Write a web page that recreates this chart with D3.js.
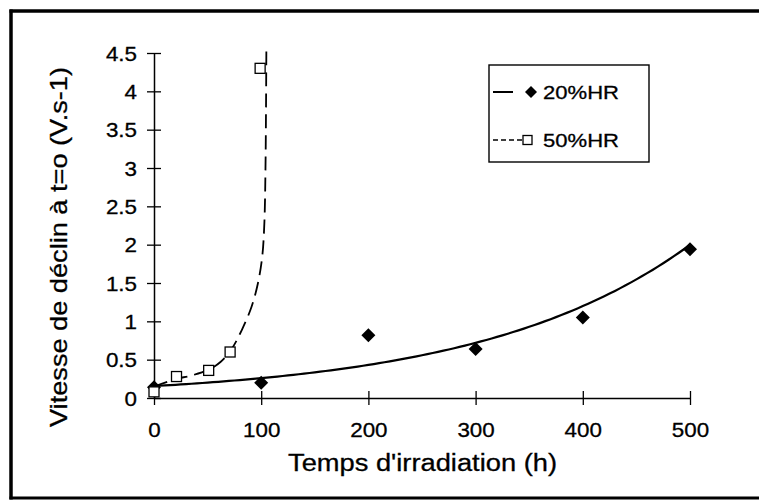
<!DOCTYPE html>
<html>
<head>
<meta charset="utf-8">
<script src="https://cdn.jsdelivr.net/npm/d3@7/dist/d3.min.js"></script>
<style>
  html, body { margin: 0; padding: 0; background: #fff; overflow: hidden; }
  svg { display: block; font-family: "Liberation Sans", Arial, Helvetica, sans-serif; overflow: hidden; }
  text { fill: #000; stroke: #000; stroke-width: 0.3px; }
</style>
</head>
<body>
<svg id="chart" width="759" height="500" viewBox="0 0 759 500"></svg>
<script>
// ---- data ----
const hours20 = [0, 100, 200, 300, 400, 500];
const vit20   = [0.14, 0.2, 0.82, 0.64, 1.05, 1.94];
const hours50 = [0, 21, 51, 71, 99];
const vit50   = [0.08, 0.28, 0.36, 0.6, 4.3];
// dashed trend curve of the 50%HR series, as traced on the picture
const trend50x = [0, 21, 34, 51, 62, 72, 82, 91, 97, 101, 103, 104, 104.5, 104.8];
const trend50y = [0.15, 0.25, 0.29, 0.37, 0.47, 0.63, 0.89, 1.19, 1.5, 1.85, 2.3, 3.0, 3.8, 4.52];
const xTicks = [0, 100, 200, 300, 400, 500];
const yTicks = [0, 0.5, 1, 1.5, 2, 2.5, 3, 3.5, 4, 4.5];
const seriesNames = ["20%HR", "50%HR"];
const xTitle = "Temps d'irradiation (h)";
const yTitle = "Vitesse de déclin à t=o (V.s-1)";

const svg = d3.select("#chart");
const x = d3.scaleLinear().domain([0, 500]).range([154, 690]);
const y = d3.scaleLinear().domain([0, 4.5]).range([398, 53]);

// outer frame: top, left and bottom sides only (right side is off the picture)
svg.append("line").attr("x1", 9.5).attr("x2", 759).attr("y1", 11).attr("y2", 11)
  .attr("stroke", "#000").attr("stroke-width", 3.5);
svg.append("line").attr("x1", 11).attr("x2", 11).attr("y1", 9.5).attr("y2", 499.5)
  .attr("stroke", "#000").attr("stroke-width", 3.5);
svg.append("line").attr("x1", 9.5).attr("x2", 759).attr("y1", 498).attr("y2", 498)
  .attr("stroke", "#000").attr("stroke-width", 3);

// axes
const gx = svg.append("g").attr("transform", `translate(0,${y(0)})`)
  .call(d3.axisBottom(x).tickValues(xTicks).tickSizeInner(7).tickSizeOuter(0).tickFormat(d3.format("d")));
gx.selectAll(".tick line").attr("y1", -7).attr("y2", 7).attr("stroke-width", 1.3);
gx.select(".domain").attr("stroke-width", 1.5);
gx.selectAll(".tick text").attr("y", 39).attr("dy", 0)
  .attr("font-size", 20)
  .attr("transform", "scale(1.12,1)");

const gy = svg.append("g").attr("transform", `translate(${x(0)},0)`)
  .call(d3.axisLeft(y).tickValues(yTicks).tickSizeInner(7).tickSizeOuter(0).tickFormat(d => String(d)));
gy.selectAll(".tick line").attr("x1", -7).attr("x2", 7).attr("stroke-width", 1.3);
gy.select(".domain").attr("stroke-width", 1.5);
gy.selectAll(".tick text").attr("x", -17 / 1.12).attr("dy", "0.36em")
  .attr("font-size", 20)
  .attr("transform", "scale(1.12,1)");
svg.selectAll("g").attr("font-family", null);

// exponential trend line for 20%HR (least squares on ln y)
const n = hours20.length;
const lny = vit20.map(Math.log);
const mx = d3.mean(hours20), my = d3.mean(lny);
let sxy = 0, sxx = 0;
for (let i = 0; i < n; i++) { sxy += (hours20[i] - mx) * (lny[i] - my); sxx += (hours20[i] - mx) ** 2; }
const b = sxy / sxx, a = Math.exp(my - b * mx);
const trend20 = d3.range(0, 501, 5).map(t => [t, a * Math.exp(b * t)]);

svg.append("path").datum(trend20)
  .attr("d", d3.line().x(d => x(d[0])).y(d => y(d[1])))
  .attr("fill", "none").attr("stroke", "#000").attr("stroke-width", 2.2);

const trend50 = trend50x.map((t, i) => [t, trend50y[i]]);
svg.append("path").datum(trend50)
  .attr("d", d3.line().x(d => x(d[0])).y(d => y(d[1])).curve(d3.curveCatmullRom.alpha(0.5)))
  .attr("fill", "none").attr("stroke", "#000").attr("stroke-width", 1.8)
  .attr("stroke-dasharray", "14,7");

// markers
const diamondPath = "M0,-7L7,0L0,7L-7,0Z";
svg.append("g").selectAll("path").data(hours20.map((t, i) => [t, vit20[i]])).join("path")
  .attr("d", diamondPath).attr("transform", d => `translate(${x(d[0])},${y(d[1])})`)
  .attr("fill", "#000");

svg.append("g").selectAll("rect").data(hours50.map((t, i) => [t, vit50[i]])).join("rect")
  .attr("x", d => x(d[0]) - 5).attr("y", d => y(d[1]) - 5)
  .attr("width", 10).attr("height", 10)
  .attr("fill", "#fff").attr("stroke", "#000").attr("stroke-width", 1.3);

// legend
const lg = svg.append("g");
lg.append("rect").attr("x", 489).attr("y", 65).attr("width", 160).attr("height", 97)
  .attr("fill", "#fff").attr("stroke", "#000").attr("stroke-width", 1.4);
lg.append("line").attr("x1", 493).attr("x2", 513).attr("y1", 92).attr("y2", 92)
  .attr("stroke", "#000").attr("stroke-width", 2);
lg.append("path").attr("d", "M0,-6L6,0L0,6L-6,0Z").attr("transform", "translate(531,92)").attr("fill", "#000");
lg.append("text").attr("x", 543).attr("y", 98.5).attr("font-size", 19)
  .attr("textLength", 76).attr("lengthAdjust", "spacingAndGlyphs").text(seriesNames[0]);
lg.append("line").attr("x1", 493).attr("x2", 522).attr("y1", 140).attr("y2", 140)
  .attr("stroke", "#000").attr("stroke-width", 1.5).attr("stroke-dasharray", "5,3");
lg.append("rect").attr("x", 523).attr("y", 135.5).attr("width", 9).attr("height", 9)
  .attr("fill", "#fff").attr("stroke", "#000").attr("stroke-width", 1.3);
lg.append("text").attr("x", 543).attr("y", 146.5).attr("font-size", 19)
  .attr("textLength", 76).attr("lengthAdjust", "spacingAndGlyphs").text(seriesNames[1]);

// axis titles
svg.append("text").attr("x", 422.5).attr("y", 471).attr("text-anchor", "middle")
  .attr("font-size", 23).attr("textLength", 269).attr("lengthAdjust", "spacingAndGlyphs")
  .text(xTitle);
svg.append("text").attr("transform", "translate(67,247) rotate(-90)").attr("text-anchor", "middle")
  .attr("font-size", 24).attr("textLength", 360).attr("lengthAdjust", "spacingAndGlyphs")
  .text(yTitle);
</script>
</body>
</html>
